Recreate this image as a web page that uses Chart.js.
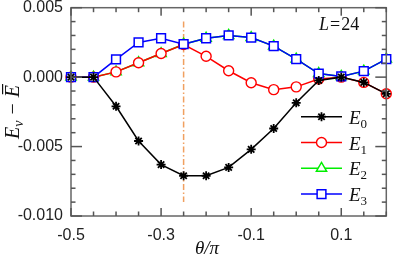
<!DOCTYPE html>
<html lang="en">
<head>
  <meta charset="UTF-8">
  <title>Eigenvalue shifts vs theta</title>
  <style>
    body { margin: 0; background: #fff; }
  </style>
</head>
<body>
  <canvas id="myChart" width="394" height="261"></canvas>

  <script src="https://cdn.jsdelivr.net/npm/chart.js"></script>
  <script>
    // data
    const theta = [-0.5, -0.45, -0.4, -0.35, -0.3, -0.25, -0.2, -0.15, -0.1, -0.05, 0, 0.05, 0.1, 0.15, 0.2];
    const e0 = [0, 0, -0.0021, -0.0046, -0.0063, -0.0071, -0.0071, -0.0065, -0.0052, -0.0037, -0.00185, -0.00024, 0, -0.00038, -0.0012];
    const e1 = [0, 0, 0.00038, 0.00104, 0.0017, 0.00235, 0.0015, 0.00046, -0.0004, -0.0009, -0.0007, -0.00014, 0, -0.00038, -0.0012];
    const e2 = [0, 0, 0.00038, 0.00104, 0.0017, 0.00237, 0.0028, 0.003, 0.00285, 0.00223, 0.0013, 0.00026, 0.00005, 0.00043, 0.0013];
    const e3 = [0, 0, 0.00128, 0.0025, 0.0028, 0.00237, 0.0028, 0.003, 0.00285, 0.00223, 0.0013, 0.00026, 0.00005, 0.00043, 0.0013];
    const xTickLabels = ['-0.5', '-0.3', '-0.1', '0.1'];
    const yTickLabels = ['0.005', '0.000', '-0.005', '-0.010'];
    const crossing = -0.25;
    const crossingSpan = [0.004, -0.009];
    const sizeLabel = 24;

    const pts = arr => arr.map((v, i) => ({ x: theta[i], y: v }));
    const findLabel = (labels, v) => labels.find(l => Math.abs(Number(l) - v) < 1e-9) || '';

    const series = [
      { label: '0', data: e0, color: '#000000', style: 'star', r: 4.5, bw: 1.8, order: 0 },
      { label: '1', data: e1, color: '#ff0000', style: 'circle', r: 5, bw: 1.4, order: 2 },
      { label: '2', data: e2, color: '#00ee00', style: 'triangle', r: 6, bw: 1.4, order: 3 },
      { label: '3', data: e3, color: '#0000ff', style: 'rect', r: 6.2, bw: 1.5, order: 1 }
    ];

    const serif = '"Liberation Serif", "DejaVu Serif", serif';

    // text pieces drawn one after another (for sub/superscripts)
    function runsWidth(ctx, runs) {
      let w = 0;
      runs.forEach(r => { ctx.font = r.font; w += ctx.measureText(r.text).width + (r.kern || 0); });
      return w;
    }
    function drawRuns(ctx, runs, left, base) {
      runs.forEach(r => {
        ctx.font = r.font;
        ctx.fillText(r.text, left, base + (r.dy || 0));
        const w = ctx.measureText(r.text).width;
        if (r.bar) {
          ctx.fillRect(left + 3, base - r.bar, w - 2, 1.2);
        }
        left += w + (r.kern || 0);
      });
    }

    const decorations = {
      id: 'decorations',
      beforeDatasetsDraw(chart) {
        const { ctx, scales: { x, y } } = chart;
        ctx.save();
        ctx.strokeStyle = '#f0a060';
        ctx.lineWidth = 1.5;
        ctx.setLineDash([6, 2.5, 1.5, 2.5]);
        ctx.beginPath();
        ctx.moveTo(x.getPixelForValue(crossing), y.getPixelForValue(crossingSpan[0]));
        ctx.lineTo(x.getPixelForValue(crossing), y.getPixelForValue(crossingSpan[1]));
        ctx.stroke();
        ctx.restore();
      },
      afterDraw(chart) {
        const { ctx, chartArea: a, scales: { x, y } } = chart;
        ctx.save();
        ctx.setLineDash([]);
        ctx.textAlign = 'left';
        ctx.textBaseline = 'alphabetic';
        // frame
        ctx.strokeStyle = '#666';
        ctx.lineWidth = 1.5;
        ctx.strokeRect(a.left, a.top, a.right - a.left, a.bottom - a.top);
        // inward ticks on all four sides
        ctx.fillStyle = '#555';
        x.ticks.forEach(t => {
          const px = x.getPixelForValue(t.value);
          const len = findLabel(xTickLabels, t.value) ? 8 : 4.5;
          ctx.fillRect(px - 0.75, a.bottom - len, 1.5, len);
          ctx.fillRect(px - 0.75, a.top, 1.5, len);
        });
        y.ticks.forEach(t => {
          const py = y.getPixelForValue(t.value);
          const len = findLabel(yTickLabels, t.value) ? 11 : 4.5;
          ctx.fillRect(a.left, py - 0.75, len, 1.5);
          ctx.fillRect(a.right - len, py - 0.75, len, 1.5);
        });

        ctx.fillStyle = '#111';
        // L = 24
        drawRuns(ctx, [
          { text: 'L', font: 'italic 18px ' + serif, kern: 1 },
          { text: '=', font: '18px ' + serif, kern: 1 },
          { text: String(sizeLabel), font: '18px ' + serif }
        ], 319, 30);

        // x title
        const xt = [{ text: 'θ/π', font: 'italic 19px ' + serif }];
        drawRuns(ctx, xt, 207 - runsWidth(ctx, xt) / 2, 254);

        // y title, rotated
        const yt = [
          { text: 'E', font: 'italic 20px ' + serif },
          { text: 'v', font: 'italic 14px ' + serif, dy: 4, kern: 6 },
          { text: '−', font: '20px ' + serif, kern: 6 },
          { text: 'E', font: 'italic 20px ' + serif, bar: 17 }
        ];
        ctx.translate(19, 112);
        ctx.rotate(-Math.PI / 2);
        drawRuns(ctx, yt, -runsWidth(ctx, yt) / 2, 0);
        ctx.setTransform(1, 0, 0, 1, 0, 0);

        // legend
        series.forEach((s, i) => {
          const ly = 116.7 + i * 25.8;
          ctx.strokeStyle = s.color;
          ctx.lineWidth = 1.5;
          ctx.beginPath();
          ctx.moveTo(301, ly); ctx.lineTo(342, ly);
          ctx.stroke();
          ctx.fillStyle = s.style === 'star' ? s.color : '#fff';
          ctx.lineWidth = s.bw;
          Chart.helpers.drawPoint(ctx, { pointStyle: s.style, radius: s.r, rotation: 0, borderWidth: s.bw }, 321.5, ly);
          ctx.fillStyle = '#111';
          drawRuns(ctx, [
            { text: 'E', font: 'italic 19px ' + serif },
            { text: s.label, font: '13px ' + serif, dy: 4 }
          ], 349, ly + 7);
        });
        ctx.restore();
      }
    };

    Chart.defaults.font.family = '"Liberation Sans", Arial, sans-serif';
    Chart.defaults.font.size = 16;
    Chart.defaults.color = '#222';

    const ctx = document.getElementById('myChart');

    const grafica = new Chart(ctx, {
      type: 'line',
      data: {
        datasets: series.map(s => ({
          label: 'E' + s.label,
          data: pts(s.data),
          borderColor: s.color,
          borderWidth: 1.5,
          pointStyle: s.style,
          pointRadius: s.r,
          pointBorderColor: s.color,
          pointBackgroundColor: s.style === 'star' ? s.color : '#fff',
          pointBorderWidth: s.bw,
          tension: 0,
          order: s.order,
          clip: false
        }))
      },
      options: {
        responsive: false,
        animation: false,
        layout: { padding: { top: 5, right: 7, left: 0, bottom: 0 } },
        plugins: {
          legend: { display: false },
          tooltip: { enabled: false }
        },
        scales: {
          x: {
            type: 'linear',
            min: -0.5,
            max: 0.2,
            grid: { display: false, drawTicks: false },
            border: { display: false },
            ticks: {
              stepSize: 0.05,
              padding: 10,
              autoSkip: false,
              maxRotation: 0,
              callback: v => findLabel(xTickLabels, v)
            },
            afterFit: scale => {
              scale.height = 45;
              scale.paddingLeft = 0;
              scale.paddingRight = 0;
            }
          },
          y: {
            min: -0.01,
            max: 0.005,
            grid: { display: false, drawTicks: false },
            border: { display: false },
            ticks: {
              stepSize: 0.001,
              padding: 8,
              autoSkip: false,
              callback: v => findLabel(yTickLabels, v)
            },
            afterFit: scale => {
              scale.width = 71;
              scale.paddingTop = 0;
              scale.paddingBottom = 0;
            }
          }
        }
      },
      plugins: [decorations]
    });
  </script>
</body>
</html>
